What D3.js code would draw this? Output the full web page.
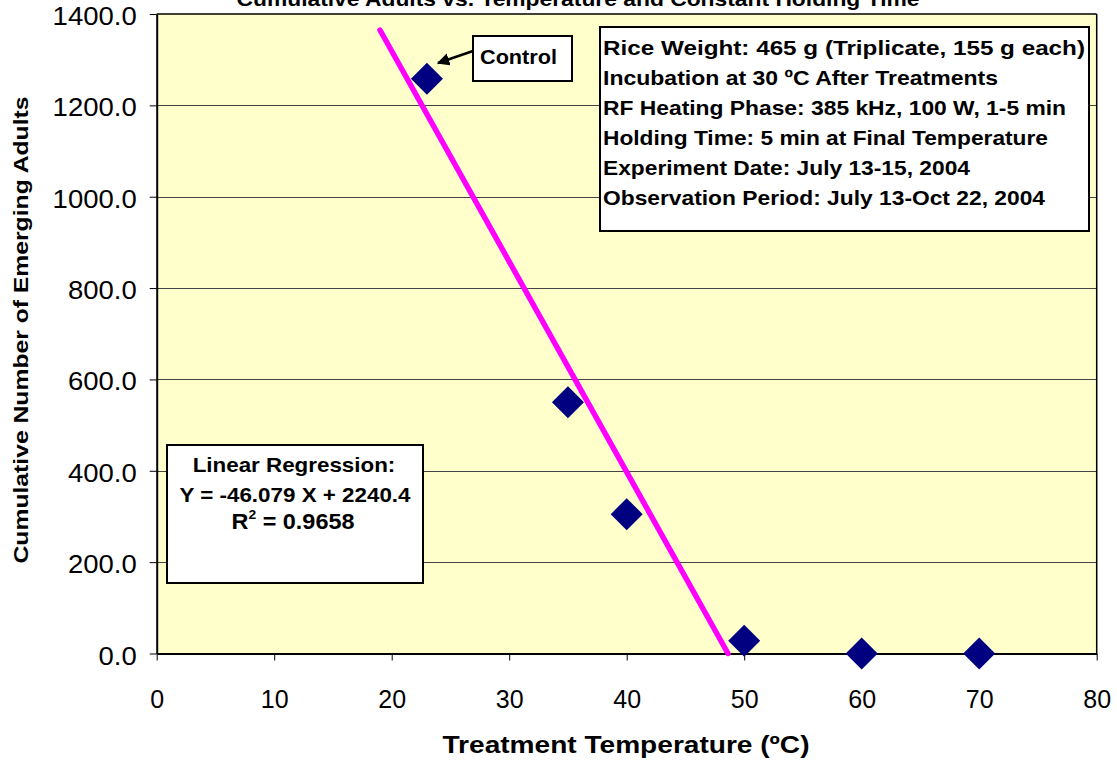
<!DOCTYPE html>
<html><head><meta charset="utf-8">
<script src="https://cdn.jsdelivr.net/npm/d3@7"></script>
<style>body{margin:0;background:#fff;} svg{display:block;font-family:"Liberation Sans",Arial,sans-serif;}</style>
</head><body>
<svg id="c" width="1117" height="761"></svg>
<script>
const temps = [23, 35, 40, 50, 60, 70];
const adults = [1258, 550, 305, 28, 0, 0];
const xTicks = [0, 10, 20, 30, 40, 50, 60, 70, 80];
const yTicks = [0, 200, 400, 600, 800, 1000, 1200, 1400];
const slope = -46.079, intercept = 2240.4;
const fitRange = [19, 48.62];
const infoLines = ["Rice Weight: 465 g (Triplicate, 155 g each)","Incubation at 30 ºC After Treatments","RF Heating Phase: 385 kHz, 100 W, 1-5 min","Holding Time: 5 min at Final Temperature","Experiment Date: July 13-15, 2004","Observation Period: July 13-Oct 22, 2004"];

const svg = d3.select("#c");
const L = 156.7, R = 1096.7, T = 14, B = 653.5;
const x = d3.scaleLinear().domain([0, 80]).range([L, R]);
const y = d3.scaleLinear().domain([0, 1400]).range([B, T]);

function stretch(sel, factor) {
  sel.each(function () {
    const len = this.getComputedTextLength();
    d3.select(this).attr("textLength", len * factor).attr("lengthAdjust", "spacingAndGlyphs");
  });
}

svg.append("rect").attr("x", L).attr("y", T).attr("width", R - L).attr("height", B - T).attr("fill", "#FFFFCC");
svg.append("g").selectAll("line").data(yTicks.slice(1, -1)).join("line")
  .attr("x1", L).attr("x2", R).attr("y1", d => Math.round(y(d)) + 0.5).attr("y2", d => Math.round(y(d)) + 0.5)
  .attr("stroke", "#444").attr("stroke-width", 1);
svg.append("line").attr("x1", R).attr("x2", R).attr("y1", T).attr("y2", B).attr("stroke", "#000").attr("stroke-width", 1.5);
svg.append("line").attr("x1", L).attr("x2", R).attr("y1", T).attr("y2", T).attr("stroke", "#000").attr("stroke-width", 1.5);

const xAxis = svg.append("g").attr("transform", `translate(0,${B})`)
  .call(d3.axisBottom(x).tickValues(xTicks).tickSize(7).tickSizeOuter(0));
const yAxis = svg.append("g").attr("transform", `translate(${L},0)`)
  .call(d3.axisLeft(y).tickValues(yTicks).tickSize(7).tickSizeOuter(0).tickFormat(d3.format(".1f")));
[xAxis, yAxis].forEach(a => {
  a.select(".domain").attr("stroke", "#000").attr("stroke-width", 2);
  a.selectAll(".tick line").attr("stroke", "#000").attr("stroke-width", 1);
  a.selectAll("text").attr("font-size", 25).attr("fill", "#000").attr("font-family", "Liberation Sans, Arial");
});
xAxis.selectAll("text").attr("y", 54.5).attr("dy", "0");
yAxis.selectAll("text").attr("x", -20).attr("dy", "0.42em");
stretch(yAxis.selectAll("text"), 1.1);

svg.append("line")
  .attr("x1", x(fitRange[0])).attr("y1", y(slope * fitRange[0] + intercept))
  .attr("x2", x(fitRange[1])).attr("y2", y(slope * fitRange[1] + intercept))
  .attr("stroke", "#FF00FF").attr("stroke-width", 5.5).attr("stroke-linecap", "round");

svg.append("g").selectAll("path").data(temps.map((t, i) => [t, adults[i]])).join("path")
  .attr("transform", d => `translate(${x(d[0])},${y(d[1])})`)
  .attr("d", "M0,-16L16,0L0,16L-16,0Z").attr("fill", "#000080");

svg.append("text").attr("x", 578).attr("y", 6).attr("text-anchor", "middle")
  .attr("font-size", 21).attr("font-weight", "bold")
  .attr("textLength", 683).attr("lengthAdjust", "spacingAndGlyphs")
  .text("Cumulative Adults vs. Temperature and Constant Holding Time");

svg.append("text").attr("x", 626).attr("y", 753).attr("text-anchor", "middle")
  .attr("font-size", 24).attr("font-weight", "bold")
  .attr("textLength", 367).attr("lengthAdjust", "spacingAndGlyphs")
  .text("Treatment Temperature  (ºC)");
svg.append("text").attr("transform", "translate(28,330) rotate(-90)").attr("text-anchor", "middle")
  .attr("font-size", 20).attr("font-weight", "bold")
  .attr("textLength", 467).attr("lengthAdjust", "spacingAndGlyphs")
  .text("Cumulative Number of Emerging Adults");

// control label
svg.append("defs").append("marker").attr("id", "ah").attr("viewBox", "0 0 10 10")
  .attr("refX", 9).attr("refY", 5).attr("markerWidth", 5).attr("markerHeight", 5).attr("orient", "auto")
  .append("path").attr("d", "M0,0L10,5L0,10Z").attr("fill", "#000");
svg.append("line").attr("x1", 473).attr("y1", 51).attr("x2", 438).attr("y2", 63)
  .attr("stroke", "#000").attr("stroke-width", 2.5).attr("marker-end", "url(#ah)");
svg.append("rect").attr("x", 473).attr("y", 36).attr("width", 99).attr("height", 45)
  .attr("fill", "#fff").attr("stroke", "#000").attr("stroke-width", 2);
svg.append("text").attr("x", 480).attr("y", 64)
  .attr("font-size", 21).attr("font-weight", "bold")
  .attr("textLength", 77).attr("lengthAdjust", "spacingAndGlyphs").text("Control");

// info box
svg.append("rect").attr("x", 600).attr("y", 27).attr("width", 489).attr("height", 204)
  .attr("fill", "#fff").attr("stroke", "#000").attr("stroke-width", 2);
const infoWidths = [482, 395, 463, 445, 367, 442];
svg.append("g").selectAll("text").data(infoLines).join("text")
  .attr("x", 603).attr("y", (d, i) => 55 + i * 30)
  .attr("font-size", 21).attr("font-weight", "bold")
  .attr("textLength", (d, i) => infoWidths[i]).attr("lengthAdjust", "spacingAndGlyphs")
  .text(d => d);

// regression box
svg.append("rect").attr("x", 167).attr("y", 445).attr("width", 256).attr("height", 138)
  .attr("fill", "#fff").attr("stroke", "#000").attr("stroke-width", 2);
const rg = svg.append("g").attr("font-size", 21).attr("font-weight", "bold").attr("text-anchor", "middle");
const rl1 = rg.append("text").attr("x", 294).attr("y", 472).text("Linear Regression:");
const rl2 = rg.append("text").attr("x", 295).attr("y", 502).text("Y = -46.079 X + 2240.4");
const rf = 231 / rl2.node().getComputedTextLength();
stretch(rl1, rf); stretch(rl2, rf);
const r2 = rg.append("text").attr("transform", `translate(293,529) scale(${rf},1)`).attr("font-size", 22);
r2.append("tspan").text("R");
r2.append("tspan").attr("font-size", 13).attr("dy", -10).text("2");
r2.append("tspan").attr("dy", 10).text(" = 0.9658");
</script>
</body></html>
